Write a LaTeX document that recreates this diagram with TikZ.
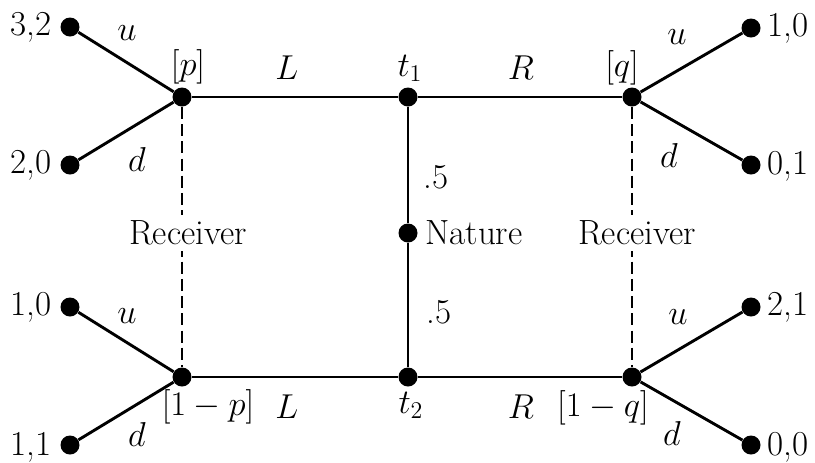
\documentclass[tikz,border=0pt]{standalone}
\begin{document}
\begin{tikzpicture}[x=0.5pt,y=-0.5pt,
  dot/.style={circle,fill=black,inner sep=0pt,minimum size=9.5pt},
  edge/.style={line width=1.45pt},
  info/.style={line width=1.3pt,dash pattern=on 6pt off 2.6pt},
  lbl/.style={font=\fontsize{17.5}{20}\selectfont,inner sep=1pt},
  rec/.style={lbl,fill=white,inner sep=3pt}]
\useasboundingbox (0,0) rectangle (815,462);
% decision nodes
\node[dot] (p)  at (182,97) {};
\node[dot] (t1) at (408,97) {};
\node[dot] (q)  at (632,97) {};
\node[dot] (nat) at (408,233) {};
\node[dot] (mp) at (182,377) {};
\node[dot] (t2) at (408,377) {};
\node[dot] (mq) at (632,377) {};
% terminal nodes
\node[dot] (a1) at (70,27) {};
\node[dot] (a2) at (70,165) {};
\node[dot] (a3) at (70,307) {};
\node[dot] (a4) at (70,445) {};
\node[dot] (b1) at (751,28) {};
\node[dot] (b2) at (751,165) {};
\node[dot] (b3) at (751,307) {};
\node[dot] (b4) at (751,445) {};
% edges
\draw[edge] (p) -- (t1) -- (q);
\draw[edge] (mp) -- (t2) -- (mq);
\draw[edge] (t1) -- (nat) -- (t2);
\draw[edge] (a1) -- (p) -- (a2);
\draw[edge] (a3) -- (mp) -- (a4);
\draw[edge] (b1) -- (q) -- (b2);
\draw[edge] (b3) -- (mq) -- (b4);
% information sets
\draw[info] (p) -- (mp);
\draw[info] (q) -- (mq);
\node[rec] (rl) at (188,233) {Receiver};
\node[rec] (rr) at (637,233) {Receiver};
\node[lbl,anchor=west] (natl) at (423,233) {Nature};
% payoffs
\node[lbl] (pa1) at (31,27) {3,2};
\node[lbl] (pa2) at (31,165) {2,0};
\node[lbl] (pa3) at (31,307) {1,0};
\node[lbl] (pa4) at (31,447) {1,1};
\node[lbl] (pb1) at (788,28) {1,0};
\node[lbl] (pb2) at (788,166) {0,1};
\node[lbl] (pb3) at (788,307) {2,1};
\node[lbl] (pb4) at (788,447) {0,0};
% edge labels
\node[lbl] (lu1) at (127,33) {$u$};
\node[lbl] (ld1) at (137,159) {$d$};
\node[lbl] (lu2) at (677,37) {$u$};
\node[lbl] (ld2) at (669,155) {$d$};
\node[lbl] (lu3) at (127,316) {$u$};
\node[lbl] (ld3) at (137,434) {$d$};
\node[lbl] (lu4) at (678,317) {$u$};
\node[lbl] (ld4) at (672,433) {$d$};
\node[lbl] (lL1) at (287,68) {$L$};
\node[lbl] (lR1) at (521,68) {$R$};
\node[lbl] (lL2) at (287,407) {$L$};
\node[lbl] (lR2) at (521,407) {$R$};
\node[lbl] (lt1) at (410,68) {$t_1$};
\node[lbl] (lt2) at (411,405) {$t_2$};
\node[lbl] (lp) at (188,67) {$[p]$};
\node[lbl] (lq) at (622,68) {$[q]$};
\node[lbl] (l1p) at (208,407) {$[1-p]$};
\node[lbl] (l1q) at (603,408) {$[1-q]$};
\node[lbl] (h1) at (436,177) {.5};
\node[lbl] (h2) at (439,312) {.5};
\end{tikzpicture}
\end{document}
